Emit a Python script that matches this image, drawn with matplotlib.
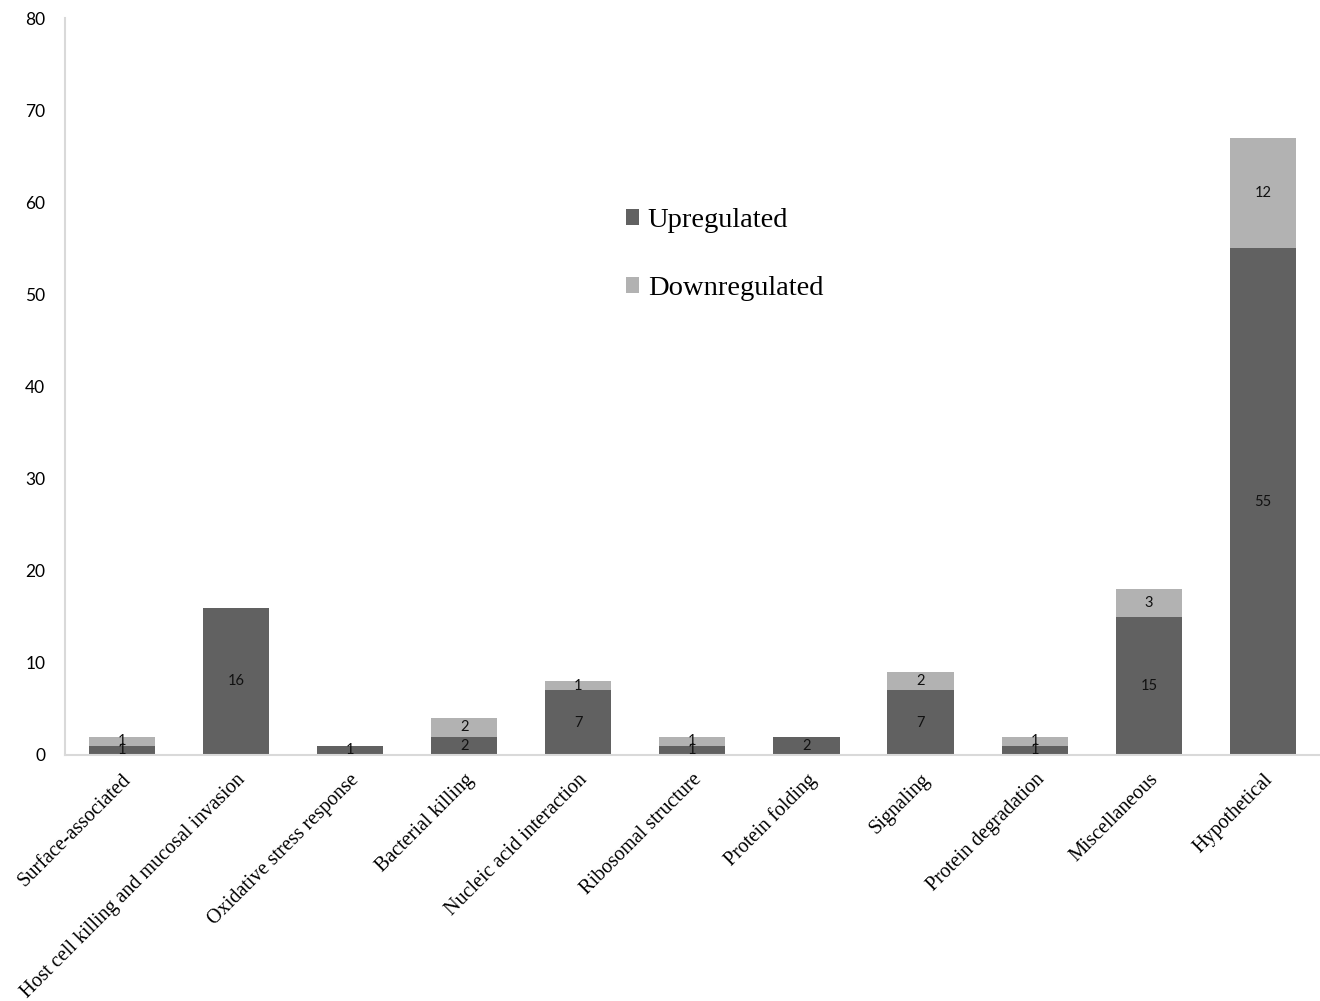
import matplotlib
matplotlib.use("Agg")
import matplotlib.pyplot as plt
import numpy as np

categories = [
    "Surface-associated",
    "Host cell killing and mucosal invasion",
    "Oxidative stress response",
    "Bacterial killing",
    "Nucleic acid interaction",
    "Ribosomal structure",
    "Protein folding",
    "Signaling",
    "Protein degradation",
    "Miscellaneous",
    "Hypothetical",
]
upregulated = [1, 16, 1, 2, 7, 1, 2, 7, 1, 15, 55]
downregulated = [1, 0, 0, 2, 1, 1, 0, 2, 1, 3, 12]
y_ticks = [0, 10, 20, 30, 40, 50, 60, 70, 80]

up_color = "#616161"
down_color = "#b2b2b2"
serif = ["Liberation Serif", "DejaVu Serif"]
sans = ["Lato", "DejaVu Sans"]

fig = plt.figure(figsize=(13.2, 10.01), dpi=100)
ax = fig.add_axes([0.049, 0.2458, 0.951, 0.7362])

x = np.arange(len(categories))
width = 0.58
b_up = ax.bar(x, upregulated, width, color=up_color, label="Upregulated")
b_down = ax.bar(x, downregulated, width, bottom=upregulated, color=down_color,
                label="Downregulated")

# segment value labels, centred in each stacked piece
for vals, base in ((upregulated, [0] * len(x)), (downregulated, upregulated)):
    for xi, v, b in zip(x, vals, base):
        if v > 0:
            ax.text(xi, b + v / 2, str(v), ha="center", va="center",
                    fontsize=10.5, family=sans, color="#111111")

ax.set_xlim(-0.5, len(categories) - 0.5)
ax.set_ylim(0, 80)
ax.set_yticks(y_ticks)
ax.set_yticklabels([str(t) for t in y_ticks], family=sans, fontsize=12.5)
ax.set_xticks(x)
ax.set_xticklabels(categories, rotation=45, ha="right", rotation_mode="anchor",
                   family=serif, fontsize=14.5)
ax.tick_params(axis="both", length=0)
ax.tick_params(axis="y", pad=14)
ax.tick_params(axis="x", pad=11)

for side in ("top", "right"):
    ax.spines[side].set_visible(False)
for side in ("left", "bottom"):
    ax.spines[side].set_color("#d9d9d9")
    ax.spines[side].set_linewidth(1.5)

ax.legend(loc="upper left", bbox_to_anchor=(0.447, 0.742), frameon=False,
          prop={"family": serif, "size": 20.5}, handlelength=0.47,
          handleheight=0.47, handletextpad=0.3, labelspacing=1.5,
          borderpad=0, borderaxespad=0)

fig.savefig("out.png", dpi=100)
